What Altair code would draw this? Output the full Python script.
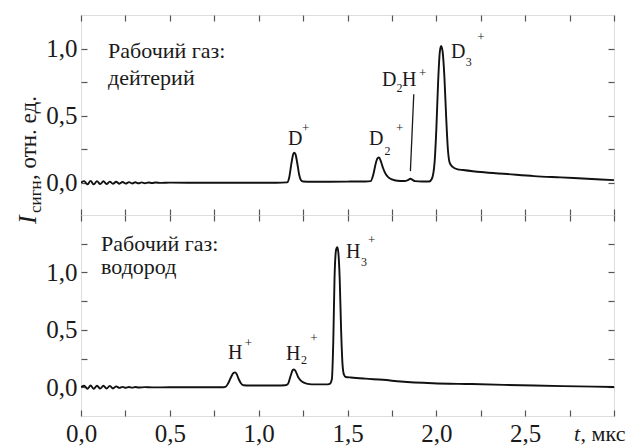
import altair as alt
import pandas as pd

# ---------------- data ----------------
# deuterium panel
t_d = [0.000, 0.018, 0.036, 0.054, 0.072, 0.090, 0.108, 0.126, 0.144, 0.162,
       0.180, 0.198, 0.216, 0.234, 0.252, 0.270, 0.288, 0.306, 0.324, 0.342,
       0.360, 0.380, 0.400, 0.420, 0.450, 0.500, 0.600, 0.800, 1.000, 1.100,
       1.160, 1.172, 1.185, 1.195, 1.201, 1.208, 1.218, 1.228, 1.238, 1.250,
       1.300, 1.400, 1.500, 1.600, 1.630, 1.645, 1.660, 1.670, 1.677, 1.688,
       1.700, 1.715, 1.730, 1.750, 1.780, 1.820, 1.840, 1.854, 1.866, 1.880,
       1.920, 1.960, 1.975, 1.990, 2.000, 2.010, 2.020, 2.027, 2.035, 2.045,
       2.055, 2.065, 2.075, 2.090, 2.120, 2.150, 2.250, 2.400, 2.550, 2.700,
       2.850, 3.000]
i_d = [0.000, 0.012, -0.012, 0.014, -0.012, 0.012, -0.010, 0.011, -0.009, 0.009,
       -0.008, 0.008, -0.007, 0.006, -0.006, 0.005, -0.005, 0.004, -0.004, 0.003,
       -0.003, 0.002, -0.002, 0.002, -0.001, 0.001, 0.000, 0.000, 0.000, 0.000,
       0.003, 0.040, 0.150, 0.215, 0.225, 0.210, 0.140, 0.060, 0.020, 0.010,
       0.008, 0.008, 0.009, 0.010, 0.012, 0.060, 0.150, 0.185, 0.188, 0.160,
       0.110, 0.065, 0.040, 0.025, 0.015, 0.013, 0.020, 0.030, 0.022, 0.012,
       0.010, 0.010, 0.030, 0.150, 0.400, 0.750, 0.980, 1.020, 0.980, 0.800,
       0.500, 0.250, 0.150, 0.120, 0.100, 0.095, 0.080, 0.065, 0.050, 0.040,
       0.030, 0.020]

# hydrogen panel
t_h = [0.000, 0.018, 0.036, 0.054, 0.072, 0.090, 0.108, 0.126, 0.144, 0.162,
       0.180, 0.198, 0.216, 0.234, 0.252, 0.270, 0.288, 0.306, 0.324, 0.360,
       0.400, 0.500, 0.700, 0.800, 0.815, 0.830, 0.845, 0.858, 0.867, 0.876,
       0.888, 0.900, 0.915, 0.950, 1.000, 1.100, 1.150, 1.165, 1.180, 1.192,
       1.199, 1.208, 1.222, 1.236, 1.255, 1.275, 1.320, 1.380, 1.400, 1.412,
       1.420, 1.427, 1.436, 1.442, 1.448, 1.456, 1.464, 1.472, 1.480, 1.490,
       1.520, 1.600, 1.700, 1.800, 1.980, 2.200, 2.550, 2.800, 3.000]
i_h = [0.000, 0.014, -0.014, 0.015, -0.013, 0.014, -0.012, 0.013, -0.011, 0.012,
       -0.010, 0.008, -0.005, 0.004, -0.004, 0.003, -0.003, 0.002, -0.002, 0.001,
       -0.001, 0.000, 0.000, 0.000, 0.005, 0.040, 0.090, 0.125, 0.130, 0.115,
       0.070, 0.035, 0.018, 0.015, 0.015, 0.015, 0.018, 0.030, 0.100, 0.150,
       0.155, 0.140, 0.090, 0.060, 0.040, 0.030, 0.025, 0.025, 0.030, 0.070,
       0.400, 0.950, 1.200, 1.220, 1.180, 0.950, 0.500, 0.200, 0.110, 0.090,
       0.085, 0.075, 0.065, 0.050, 0.035, 0.028, 0.015, 0.008, 0.003]

x_ticks = [0.0, 0.25, 0.5, 0.75, 1.0, 1.25, 1.5, 1.75, 2.0, 2.25, 2.5, 2.75, 3.0]
y_ticks_d = [0.0, 0.25, 0.5, 0.75, 1.0]
y_ticks_h = [0.0, 0.25, 0.5, 0.75, 1.0, 1.25]
y_dom_d = [-0.24, 1.25]
y_dom_h = [-0.25, 1.50]

# "Рабочий газ" captions (data coordinates of the left end of the baseline)
cap_d_text = ["Рабочий газ:", "дейтерий"]
cap_d_t = [0.152, 0.152]
cap_d_i = [0.933, 0.731]
cap_h_text = ["Рабочий газ:", "водород"]
cap_h_t = [0.113, 0.113]
cap_h_i = [1.184, 0.982]

# ion labels: letters, subscripts, superscripts
ion_d_text = ["D", "D", "D", "H", "D"]
ion_d_t = [1.165, 1.621, 1.694, 1.807, 2.083]
ion_d_i = [0.284, 0.284, 0.720, 0.720, 0.933]
sub_d_text = ["2", "2", "3"]
sub_d_t = [1.708, 1.776, 2.165]
sub_d_i = [0.209, 0.679, 0.873]
sup_d_text = ["+", "+", "+", "+"]
sup_d_t = [1.244, 1.773, 1.902, 2.230]
sup_d_i = [0.381, 0.381, 0.791, 1.060]
pointer_t = [1.873]
pointer_i = [0.66]
pointer_t2 = [1.854]
pointer_i2 = [0.087]

ion_h_text = ["H", "H", "H"]
ion_h_t = [0.827, 1.154, 1.492]
ion_h_i = [0.246, 0.237, 1.123]
sub_h_text = ["2", "3"]
sub_h_t = [1.238, 1.576]
sub_h_i = [0.202, 1.053]
sup_h_text = ["+", "+", "+"]
sup_h_t = [0.922, 1.290, 1.615]
sup_h_i = [0.351, 0.395, 1.246]

x_title_parts = ["t", ", мкс"]
x_title_t = [2.775, 2.812]

FONT = "Liberation Serif"
W = 533
H_TOP = 200
H_BOT = 201
INK = "#1a1a1a"

label_expr = ("abs(datum.value*2 - round(datum.value*2)) < 0.001 && datum.value < 2.9 ? "
              "replace(format(datum.value, '.1f'), '.', ',') : ''")

axis_common = dict(tickSize=6, offset=-6, domain=False, grid=False,
                   tickColor="#555", tickWidth=1.2, title=None,
                   labelFont=FONT, labelFontSize=25, labelColor=INK,
                   labelFlush=False, labelOverlap=False)


def text_layer(texts, ts, iis, xs, ys, size, italic=False):
    df = pd.DataFrame({"t": ts, "I": iis, "s": texts})
    return alt.Chart(df).mark_text(
        align="left", baseline="alphabetic", font=FONT, fontSize=size,
        color=INK, fontStyle="italic" if italic else "normal"
    ).encode(
        x=alt.X("t:Q", scale=xs, axis=None),
        y=alt.Y("I:Q", scale=ys, axis=None),
        text="s:N",
    )


def panel(ts, iis, ydom, yticks, height, show_xlabels, caps, ions, subs, sups, extra=None):
    df = pd.DataFrame({"t": ts, "I": iis})
    xs = alt.Scale(domain=[0, 3], nice=False, zero=False)
    ys = alt.Scale(domain=ydom, nice=False, zero=False)
    line = alt.Chart(df).mark_line(color="#111", strokeWidth=1.9, strokeJoin="round",
                                   interpolate="monotone", clip=True).encode(
        x=alt.X("t:Q", scale=xs,
                axis=alt.Axis(orient="bottom", values=x_ticks, labels=show_xlabels,
                              labelExpr=label_expr, labelPadding=5, **axis_common)),
        y=alt.Y("I:Q", scale=ys,
                axis=alt.Axis(orient="left", values=yticks, labelExpr=label_expr,
                              labelPadding=4, **axis_common)),
    )
    mirror = alt.Chart(df).mark_line(opacity=0).encode(
        x=alt.X("t:Q", scale=xs,
                axis=alt.Axis(orient="top", values=x_ticks, labels=False, **axis_common)),
        y=alt.Y("I:Q", scale=ys,
                axis=alt.Axis(orient="right", values=yticks, labels=False, **axis_common)),
    )
    layers = [line, mirror,
              text_layer(*caps, xs, ys, 22),
              text_layer(*ions, xs, ys, 20),
              text_layer(*subs, xs, ys, 12),
              text_layer(*sups, xs, ys, 13)]
    if extra is not None:
        layers += extra(xs, ys)
    return alt.layer(*layers).resolve_axis(x="independent", y="independent").properties(
        width=W, height=height)


def top_extra(xs, ys):
    pdf = pd.DataFrame({"t": pointer_t, "I": pointer_i, "t2": pointer_t2, "I2": pointer_i2})
    ptr = alt.Chart(pdf).mark_rule(color=INK, strokeWidth=1.3).encode(
        x=alt.X("t:Q", scale=xs, axis=None), y=alt.Y("I:Q", scale=ys, axis=None),
        x2="t2:Q", y2="I2:Q")
    # y-axis title pieces (rotated, reading upwards)
    ttl1 = alt.Chart(pd.DataFrame({"s": ["I"]})).mark_text(
        angle=270, align="left", baseline="alphabetic", font=FONT, fontSize=26,
        fontStyle="italic", color=INK).encode(
        x=alt.value(-45), y=alt.value(209), text="s:N")
    ttl2 = alt.Chart(pd.DataFrame({"s": ["сигн"]})).mark_text(
        angle=270, align="left", baseline="alphabetic", font=FONT, fontSize=17,
        color=INK).encode(x=alt.value(-40), y=alt.value(198), text="s:N")
    ttl3 = alt.Chart(pd.DataFrame({"s": [", отн. ед."]})).mark_text(
        angle=270, align="left", baseline="alphabetic", font=FONT, fontSize=23,
        color=INK).encode(x=alt.value(-45), y=alt.value(165), text="s:N")
    return [ptr, ttl1, ttl2, ttl3]


def bot_extra(xs, ys):
    a = alt.Chart(pd.DataFrame({"s": [x_title_parts[0]], "t": [x_title_t[0]]})).mark_text(
        align="left", baseline="alphabetic", font=FONT, fontSize=22,
        fontStyle="italic", color=INK).encode(
        x=alt.X("t:Q", scale=xs, axis=None), y=alt.value(226), text="s:N")
    b = alt.Chart(pd.DataFrame({"s": [x_title_parts[1]], "t": [x_title_t[1]]})).mark_text(
        align="left", baseline="alphabetic", font=FONT, fontSize=22,
        color=INK).encode(
        x=alt.X("t:Q", scale=xs, axis=None), y=alt.value(226), text="s:N")
    return [a, b]


top = panel(t_d, i_d, y_dom_d, y_ticks_d, H_TOP, False,
            (cap_d_text, cap_d_t, cap_d_i),
            (ion_d_text, ion_d_t, ion_d_i),
            (sub_d_text, sub_d_t, sub_d_i),
            (sup_d_text, sup_d_t, sup_d_i), top_extra)
bot = panel(t_h, i_h, y_dom_h, y_ticks_h, H_BOT, True,
            (cap_h_text, cap_h_t, cap_h_i),
            (ion_h_text, ion_h_t, ion_h_i),
            (sub_h_text, sub_h_t, sub_h_i),
            (sup_h_text, sup_h_t, sup_h_i), bot_extra)

chart = alt.vconcat(top, bot, spacing=0, bounds="flush").properties(
    padding={"left": 6, "top": 5, "right": 0, "bottom": 0}
).configure_view(stroke="#555", strokeWidth=1.5).configure(background="white")

chart.save("out.html", embed_options={"renderer": "svg", "actions": False})
